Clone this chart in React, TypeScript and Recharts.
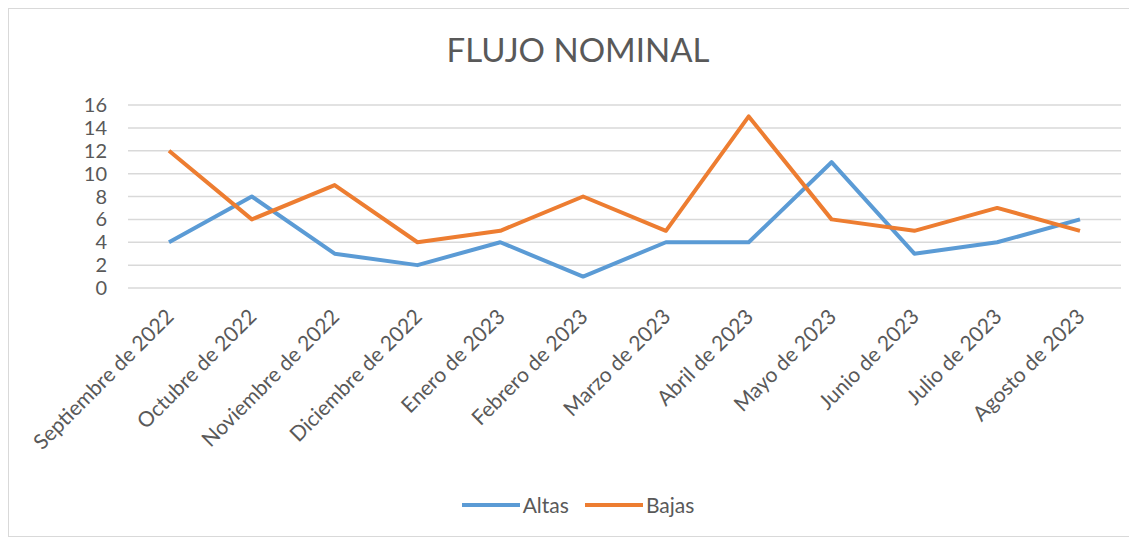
import { LineChart, Line, XAxis, YAxis, CartesianGrid, Legend } from 'recharts'

const months = [
  'Septiembre de 2022',
  'Octubre de 2022',
  'Noviembre de 2022',
  'Diciembre de 2022',
  'Enero de 2023',
  'Febrero de 2023',
  'Marzo de 2023',
  'Abril de 2023',
  'Mayo de 2023',
  'Junio de 2023',
  'Julio de 2023',
  'Agosto de 2023',
]
const altas = [4, 8, 3, 2, 4, 1, 4, 4, 11, 3, 4, 6]
const bajas = [12, 6, 9, 4, 5, 8, 5, 15, 6, 5, 7, 5]
const yTicks = [0, 2, 4, 6, 8, 10, 12, 14, 16]

const data = months.map((month, i) => ({ month, Altas: altas[i], Bajas: bajas[i] }))

const TEXT = '#595959'
const FONT = 'Lato, "Open Sans", sans-serif'

function MonthTick({ x, y, payload }: any) {
  const ax = x + 6
  const ay = y + 22
  return (
    <text
      x={ax}
      y={ay}
      transform={`rotate(-45 ${ax} ${ay})`}
      textAnchor="end"
      fill={TEXT}
      fontSize={21}
      fontFamily={FONT}
    >
      {payload.value}
    </text>
  )
}

function LegendContent({ payload }: any) {
  return (
    <div
      style={{
        display: 'flex',
        justifyContent: 'center',
        gap: 16,
        fontFamily: FONT,
        fontSize: 21,
        color: TEXT,
        paddingLeft: 26,
        lineHeight: '24px',
      }}
    >
      {(payload || []).map((p: any) => (
        <span key={p.value} style={{ display: 'flex', alignItems: 'center', gap: 3 }}>
          <svg width={58} height={6}>
            <line x1={0} y1={3} x2={58} y2={3} stroke={p.color} strokeWidth={4} />
          </svg>
          {p.value}
        </span>
      ))}
    </div>
  )
}

export default function App() {
  return (
    <div style={{ width: 1120, height: 527, border: '1px solid #d9d9d9', background: '#fff', position: 'relative' }}>
      <div
        style={{
          position: 'absolute',
          top: 20,
          left: 9,
          width: '100%',
          textAlign: 'center',
          fontFamily: FONT,
          fontSize: 33,
          color: TEXT,
        }}
      >
        FLUJO NOMINAL
      </div>
      <LineChart width={1120} height={527} data={data} margin={{ top: 96, right: 8, left: 0, bottom: 19 }}>
        <CartesianGrid horizontal vertical={false} stroke="#d9d9d9" strokeWidth={1.5} />
        <XAxis
          dataKey="month"
          interval={0}
          axisLine={false}
          tickLine={false}
          tick={<MonthTick />}
          height={205}
          padding={{ left: 41, right: 41 }}
        />
        <YAxis
          domain={[0, 16]}
          ticks={yTicks}
          interval={0}
          width={119}
          axisLine={false}
          tickLine={false}
          tickSize={0}
          tickMargin={21}
          tick={{ fill: TEXT, fontSize: 20, fontFamily: FONT }}
        />
        <Legend verticalAlign="bottom" height={24} content={<LegendContent />} />
        <Line dataKey="Altas" stroke="#5B9BD5" strokeWidth={4} dot={false} isAnimationActive={false} strokeLinejoin="round" />
        <Line dataKey="Bajas" stroke="#ED7D31" strokeWidth={4} dot={false} isAnimationActive={false} strokeLinejoin="round" />
      </LineChart>
    </div>
  )
}
